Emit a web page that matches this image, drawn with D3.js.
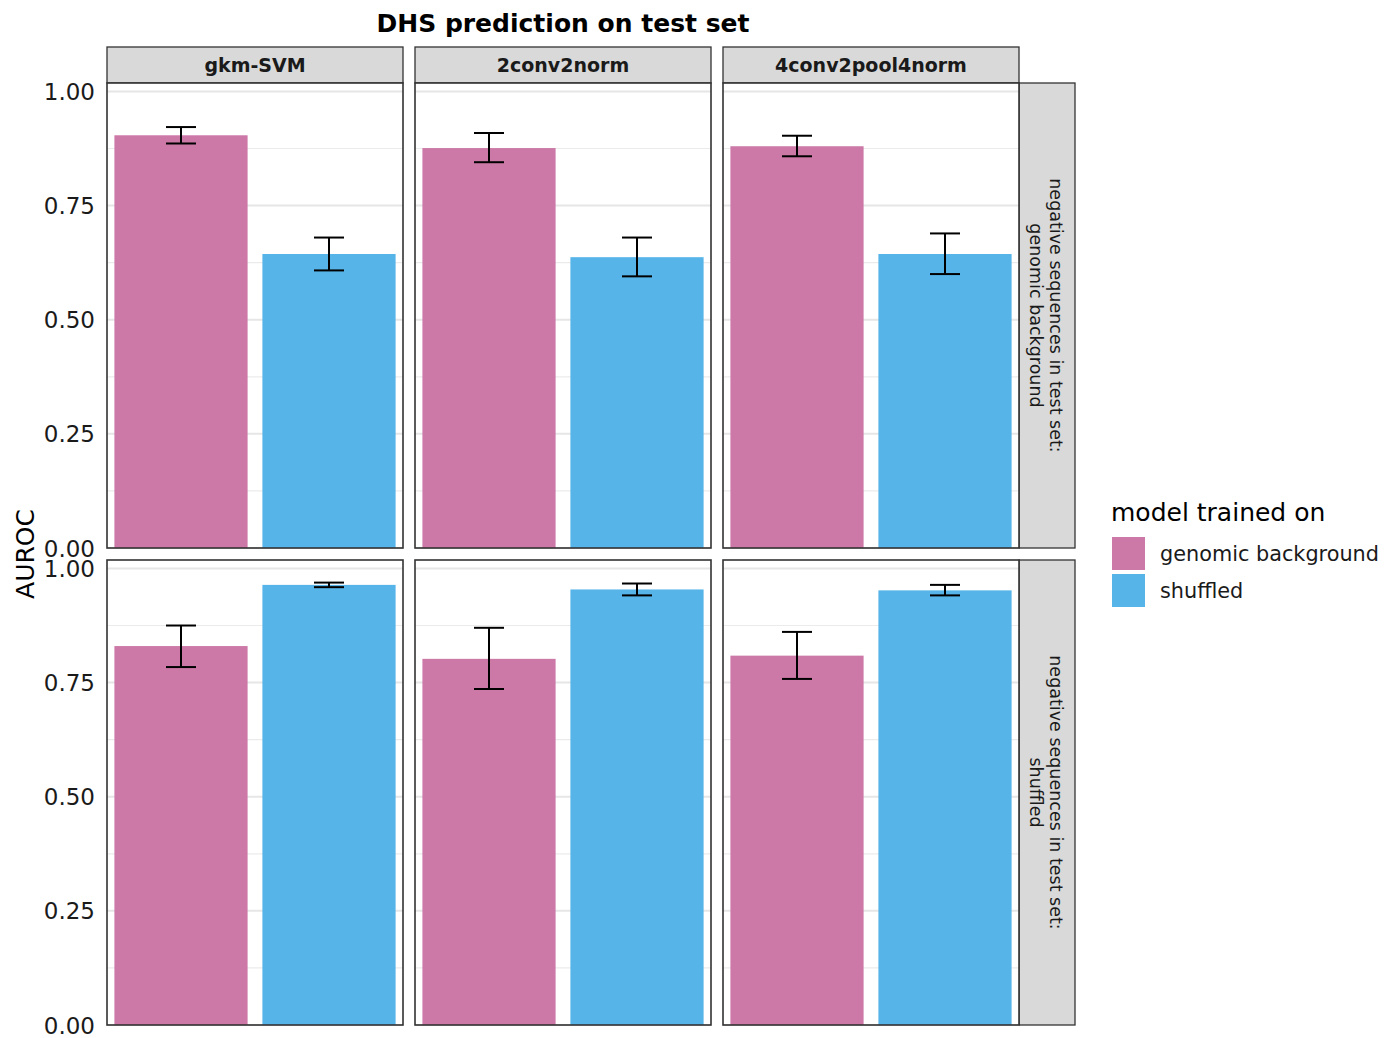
<!DOCTYPE html>
<html>
<head>
<meta charset="utf-8">
<script src="https://cdn.jsdelivr.net/npm/d3@7/dist/d3.min.js"></script>
<style>
  html, body { margin: 0; padding: 0; background: #fff; }
  svg { display: block; font-family: "DejaVu Sans", sans-serif; }
</style>
</head>
<body>
<svg id="chart" width="1400" height="1038"></svg>
<script>
// Facet columns (model) and rows (negative set used at test time)
const models = ["gkm-SVM", "2conv2norm", "4conv2pool4norm"];
const testSets = ["genomic background", "shuffled"];
const trainSets = ["genomic background", "shuffled"];
const yTicks = [0, 0.25, 0.5, 0.75, 1.0];
const yMinor = [0.125, 0.375, 0.625, 0.875];

// Mean AUROC per [testSet][model], for each training set
const aurocGenomic = [
  [0.904, 0.876, 0.880],
  [0.830, 0.802, 0.809]
];
const aurocShuffled = [
  [0.644, 0.637, 0.644],
  [0.964, 0.954, 0.952]
];
// Error bar bounds
const lowGenomic = [
  [0.886, 0.845, 0.858],
  [0.784, 0.736, 0.758]
];
const highGenomic = [
  [0.922, 0.909, 0.903],
  [0.875, 0.870, 0.861]
];
const lowShuffled = [
  [0.608, 0.595, 0.600],
  [0.959, 0.941, 0.941]
];
const highShuffled = [
  [0.680, 0.680, 0.689],
  [0.969, 0.967, 0.964]
];

const colors = { "genomic background": "#CC79A7", "shuffled": "#56B4E9" };

const svg = d3.select("#chart");

// Layout
const panelX0 = 107, panelW = 296, panelGap = 12;
const rowTop = [83, 560], panelH = 465;
const stripTop = 47, stripH = 36, rightStripW = 56;

const x = d3.scaleBand().domain(trainSets).range([0, panelW])
  .paddingInner(0.1).paddingOuter(0.05);
const y = d3.scaleLinear().domain([0, 1.0185]).range([panelH, 0]);

// Title
svg.append("text")
  .attr("x", panelX0 + (3 * panelW + 2 * panelGap) / 2)
  .attr("y", 31.5)
  .attr("text-anchor", "middle")
  .attr("font-size", 25)
  .attr("font-weight", "bold")
  .attr("fill", "#000")
  .text("DHS prediction on test set");

// Column strips
models.forEach((m, ci) => {
  const gx = panelX0 + ci * (panelW + panelGap);
  const s = svg.append("g").attr("transform", `translate(${gx},${stripTop})`);
  s.append("rect").attr("width", panelW).attr("height", stripH)
    .attr("fill", "#D9D9D9").attr("stroke", "#333").attr("stroke-width", 1.3);
  s.append("text").attr("x", panelW / 2).attr("y", stripH / 2 + 7)
    .attr("text-anchor", "middle").attr("font-size", 19)
    .attr("font-weight", "bold").attr("fill", "#1a1a1a").text(m);
});

testSets.forEach((ts, ri) => {
  const gy = rowTop[ri];

  // Row strip at right
  const rx = panelX0 + 3 * panelW + 2 * panelGap;
  const rs = svg.append("g").attr("transform", `translate(${rx},${gy})`);
  rs.append("rect").attr("width", rightStripW).attr("height", panelH)
    .attr("fill", "#D9D9D9").attr("stroke", "#333").attr("stroke-width", 1.3);
  const rt = rs.append("text")
    .attr("transform", `translate(${rightStripW / 2},${panelH / 2}) rotate(90)`)
    .attr("text-anchor", "middle").attr("font-size", 17.5).attr("fill", "#1a1a1a");
  rt.append("tspan").attr("x", 0).attr("y", -3).text("negative sequences in test set:");
  rt.append("tspan").attr("x", 0).attr("y", 17).text(ts);

  // Y axis labels
  const ax = svg.append("g").attr("transform", `translate(${panelX0},${gy})`);
  ax.selectAll("text").data(yTicks).join("text")
    .attr("x", -12).attr("y", d => y(d) + 8.5)
    .attr("text-anchor", "end").attr("font-size", 23).attr("fill", "#1a1a1a")
    .text(d => d3.format(".2f")(d));

  models.forEach((m, ci) => {
    const gx = panelX0 + ci * (panelW + panelGap);
    const g = svg.append("g").attr("transform", `translate(${gx},${gy})`);

    g.append("rect").attr("width", panelW).attr("height", panelH).attr("fill", "#fff");

    g.selectAll("line.minor").data(yMinor).join("line")
      .attr("x1", 0).attr("x2", panelW)
      .attr("y1", d => y(d)).attr("y2", d => y(d))
      .attr("stroke", "#EBEBEB").attr("stroke-width", 1.2);
    g.selectAll("line.major").data(yTicks).join("line")
      .attr("x1", 0).attr("x2", panelW)
      .attr("y1", d => y(d)).attr("y2", d => y(d))
      .attr("stroke", "#E6E6E6").attr("stroke-width", 2);

    const rows = [
      { train: "genomic background", v: aurocGenomic[ri][ci], lo: lowGenomic[ri][ci], hi: highGenomic[ri][ci] },
      { train: "shuffled", v: aurocShuffled[ri][ci], lo: lowShuffled[ri][ci], hi: highShuffled[ri][ci] }
    ];

    g.selectAll("rect.bar").data(rows).join("rect")
      .attr("class", "bar")
      .attr("x", d => x(d.train)).attr("width", x.bandwidth())
      .attr("y", d => y(d.v)).attr("height", d => y(0) - y(d.v))
      .attr("fill", d => colors[d.train]);

    const capHalf = 15;
    const eb = g.selectAll("g.err").data(rows).join("g").attr("class", "err")
      .attr("stroke", "#000").attr("stroke-width", 2);
    eb.append("line")
      .attr("x1", d => x(d.train) + x.bandwidth() / 2).attr("x2", d => x(d.train) + x.bandwidth() / 2)
      .attr("y1", d => y(d.lo)).attr("y2", d => y(d.hi));
    eb.append("line")
      .attr("x1", d => x(d.train) + x.bandwidth() / 2 - capHalf).attr("x2", d => x(d.train) + x.bandwidth() / 2 + capHalf)
      .attr("y1", d => y(d.lo)).attr("y2", d => y(d.lo));
    eb.append("line")
      .attr("x1", d => x(d.train) + x.bandwidth() / 2 - capHalf).attr("x2", d => x(d.train) + x.bandwidth() / 2 + capHalf)
      .attr("y1", d => y(d.hi)).attr("y2", d => y(d.hi));

    g.append("rect").attr("width", panelW).attr("height", panelH)
      .attr("fill", "none").attr("stroke", "#333").attr("stroke-width", 1.6);
  });
});

// Y axis title
svg.append("text")
  .attr("transform", `translate(34,${(rowTop[0] + rowTop[1] + panelH) / 2}) rotate(-90)`)
  .attr("text-anchor", "middle").attr("font-size", 25).attr("fill", "#000")
  .text("AUROC");

// Legend
const lg = svg.append("g").attr("transform", "translate(1111,0)");
lg.append("text").attr("x", 0).attr("y", 521).attr("font-size", 25).attr("fill", "#000")
  .text("model trained on");
trainSets.forEach((t, i) => {
  const ky = 537 + i * 37;
  lg.append("rect").attr("x", 1).attr("y", ky).attr("width", 33).attr("height", 33)
    .attr("fill", colors[t]);
  lg.append("text").attr("x", 49).attr("y", ky + 24).attr("font-size", 20.8)
    .attr("fill", "#1a1a1a").text(t);
});
</script>
</body>
</html>
